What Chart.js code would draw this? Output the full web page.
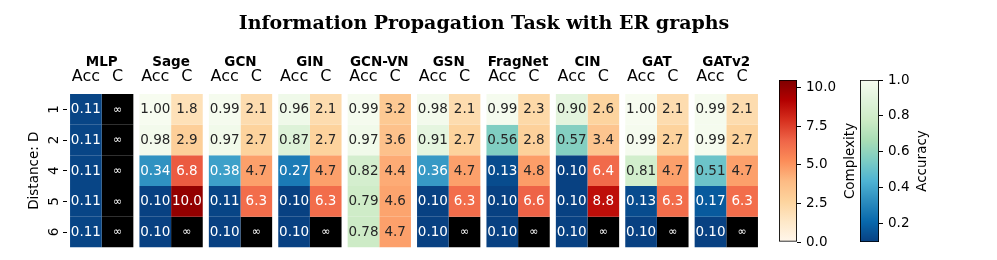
<!DOCTYPE html>
<html><head><meta charset="utf-8">
<script src="https://cdn.jsdelivr.net/npm/chart.js@4/dist/chart.umd.min.js"></script>
<style>
html,body{margin:0;padding:0;background:#fff;}
#wrap{position:relative;width:997px;height:260px;overflow:hidden;background:#fff;}
canvas{position:absolute;}
</style></head><body>
<div id="wrap">
<canvas id="main" width="997" height="260" style="left:0;top:0"></canvas>
<canvas id="cbC" width="100" height="200" style="left:760px;top:60px"></canvas>
<canvas id="cbA" width="146" height="200" style="left:851px;top:60px"></canvas>
</div>
<script>
// ---------------- data ----------------
const models = ['MLP','Sage','GCN','GIN','GCN-VN','GSN','FragNet','CIN','GAT','GATv2'];
const distances = ['1','2','4','5','6'];
// accuracy per model (rows = distances)
const accMLP    = [0.11,0.11,0.11,0.11,0.11];
const accSage   = [1.00,0.98,0.34,0.10,0.10];
const accGCN    = [0.99,0.97,0.38,0.11,0.10];
const accGIN    = [0.96,0.87,0.27,0.10,0.10];
const accGCNVN  = [0.99,0.97,0.82,0.79,0.78];
const accGSN    = [0.98,0.91,0.36,0.10,0.10];
const accFragNet= [0.99,0.56,0.13,0.10,0.10];
const accCIN    = [0.90,0.57,0.10,0.10,0.10];
const accGAT    = [1.00,0.99,0.81,0.13,0.10];
const accGATv2  = [0.99,0.99,0.51,0.17,0.10];
// complexity per model (null = infinity)
const cMLP    = [null,null,null,null,null];
const cSage   = [1.8,2.9,6.8,10.0,null];
const cGCN    = [2.1,2.7,4.7,6.3,null];
const cGIN    = [2.1,2.7,4.7,6.3,null];
const cGCNVN  = [3.2,3.6,4.4,4.6,4.7];
const cGSN    = [2.1,2.7,4.7,6.3,null];
const cFragNet= [2.3,2.8,4.8,6.6,null];
const cCIN    = [2.6,3.4,6.4,8.8,null];
const cGAT    = [2.1,2.7,4.7,6.3,null];
const cGATv2  = [2.1,2.7,4.7,6.3,null];
const accuracy = [accMLP,accSage,accGCN,accGIN,accGCNVN,accGSN,accFragNet,accCIN,accGAT,accGATv2];
const complexity = [cMLP,cSage,cGCN,cGIN,cGCNVN,cGSN,cFragNet,cCIN,cGAT,cGATv2];
const accRange = [0.097, 1.0];
const compRange = [0, 10.5];
const accTicks = [0.2,0.4,0.6,0.8,1.0];
const compTicks = [0,2.5,5,7.5,10];

// ---------------- colour maps ----------------
const GnBu = ['#f7fcf0','#e0f3db','#ccebc5','#a8ddb5','#7bccc4','#4eb3d3','#2b8cbe','#0868ac','#084081'];
const OrRd = ['#fff7ec','#fee8c8','#fdd49e','#fdbb84','#fc8d59','#ef6548','#d7301f','#b30000','#7f0000'];
function hex(h){return [parseInt(h.slice(1,3),16),parseInt(h.slice(3,5),16),parseInt(h.slice(5,7),16)];}
function sample(stops,t){
  t=Math.max(0,Math.min(1,t));
  const n=stops.length-1, p=t*n, i=Math.min(Math.floor(p),n-1), f=p-i;
  const a=hex(stops[i]), b=hex(stops[i+1]);
  return a.map((v,j)=>Math.round(v+(b[j]-v)*f));
}
function rgb(c){return 'rgb('+c.join(',')+')';}
function accRGB(v){return sample(GnBu,1-(v-accRange[0])/(accRange[1]-accRange[0]));}
function compRGB(v){return v==null?[0,0,0]:sample(OrRd,(v-compRange[0])/(compRange[1]-compRange[0]));}
function lum(c){
  const l=c.map(x=>{x/=255;return x<=0.03928?x/12.92:Math.pow((x+0.055)/1.055,2.4);});
  return 0.2126*l[0]+0.7152*l[1]+0.0722*l[2];
}

// ---------------- datasets ----------------
const datasets=[];
distances.forEach((d,r)=>{
  datasets.push({label:'Acc '+d, kind:'acc', row:r, stack:'acc',
    data:models.map(()=>[r,r+1]),
    backgroundColor:models.map((m,k)=>rgb(accRGB(accuracy[k][r])))});
});
distances.forEach((d,r)=>{
  datasets.push({label:'C '+d, kind:'c', row:r, stack:'c',
    data:models.map(()=>[r,r+1]),
    backgroundColor:models.map((m,k)=>rgb(compRGB(complexity[k][r])))});
});

const FONT='DejaVu Sans';
const cellLabels={
  id:'cellLabels',
  afterDatasetsDraw(chart){
    const ctx=chart.ctx;
    ctx.save();
    ctx.textAlign='center';ctx.textBaseline='middle';
    chart.data.datasets.forEach((ds,di)=>{
      const meta=chart.getDatasetMeta(di);
      meta.data.forEach((el,k)=>{
        const v = ds.kind==='acc'?accuracy[k][ds.row]:complexity[k][ds.row];
        const col = ds.kind==='acc'?accRGB(v):compRGB(v);
        const cx=el.x, cy=(el.y+el.base)/2;
        let txt;
        if(v==null){txt='\u221e';ctx.font='11px "'+FONT+'"';}
        else {txt= ds.kind==='acc'?v.toFixed(2):v.toFixed(1);ctx.font='13.5px "'+FONT+'"';}
        ctx.fillStyle = lum(col)>0.408?'#262626':'#ffffff';
        ctx.fillText(txt,cx,cy+0.5);
      });
    });
    // column headers
    const mA=chart.getDatasetMeta(0), mC=chart.getDatasetMeta(distances.length);
    ctx.fillStyle='#000';ctx.textBaseline='alphabetic';ctx.font='16px "'+FONT+'"';
    mA.data.forEach(el=>ctx.fillText('Acc',el.x,80.5));
    mC.data.forEach(el=>ctx.fillText('C',el.x,80.5));
    // figure title
    ctx.font='bold 19px "DejaVu Serif"';
    ctx.fillText('Information Propagation Task with ER graphs',484,28.5);
    ctx.restore();
  }
};

new Chart(document.getElementById('main'),{
  type:'bar',
  data:{labels:models,datasets},
  options:{
    responsive:false,animation:false,
    layout:{padding:{left:0,top:0,right:236,bottom:11}},
    plugins:{legend:{display:false},tooltip:{enabled:false}},
    datasets:{bar:{barPercentage:1,categoryPercentage:63.3/69.4,borderWidth:0}},
    scales:{
      x:{position:'top',stacked:true,
        grid:{display:false,drawTicks:false},border:{display:false},
        ticks:{font:{family:FONT,size:13.5,weight:'bold'},color:'#000',padding:23.5,maxRotation:0,autoSkip:false},
        afterFit(s){s.height=94;}},
      y:{type:'linear',min:0,max:5,reverse:true,stacked:false,
        afterBuildTicks(s){s.ticks=distances.map((d,i)=>({value:i+0.5}));},
        ticks:{callback:(v,i)=>distances[i],minRotation:90,maxRotation:90,crossAlign:'center',padding:4.5,
          font:{family:FONT,size:13.5},color:'#000'},
        grid:{drawOnChartArea:false,drawTicks:true,tickLength:4,color:'#000'},
        border:{display:false},
        title:{display:true,text:'Distance: D',font:{family:FONT,size:13.5},color:'#000',padding:{top:26,bottom:0}},
        afterFit(s){s.width=67;}}
    }
  },
  plugins:[cellLabels]
});

function colorbar(id,range,ticks,stops,padLeft,axisWidth,title,titleX){
  new Chart(document.getElementById(id),{
    type:'bar',
    data:{labels:[''],datasets:[{data:[range],
      backgroundColor(c){const ca=c.chart.chartArea;if(!ca)return stops[0];
        const g=c.chart.ctx.createLinearGradient(0,ca.bottom,0,ca.top);
        stops.forEach((s,i)=>g.addColorStop(i/(stops.length-1),s));return g;},
      borderColor:'#000',borderWidth:1.2,borderSkipped:false,barPercentage:1,categoryPercentage:1}]},
    options:{responsive:false,animation:false,
      layout:{padding:{left:padLeft,top:20,bottom:18,right:0}},
      plugins:{legend:{display:false},tooltip:{enabled:false}},
      scales:{x:{display:false},
        y:{position:'right',min:range[0],max:range[1],
          afterBuildTicks(s){s.ticks=ticks.map(v=>({value:v}));},
          ticks:{callback:v=>Number(v).toFixed(1),font:{family:FONT,size:13.5},color:'#000',padding:5},
          grid:{drawOnChartArea:false,tickLength:4,color:'#000'},border:{display:false},
          afterFit(s){s.width=axisWidth;}}}},
    plugins:[{id:'cbTitle',afterDraw(chart){
      const ctx=chart.ctx,ca=chart.chartArea;
      ctx.save();ctx.translate(titleX,(ca.top+ca.bottom)/2);ctx.rotate(-Math.PI/2);
      ctx.font='13.5px "'+FONT+'"';ctx.fillStyle='#000';ctx.textAlign='center';ctx.textBaseline='alphabetic';
      ctx.fillText(title,0,0);ctx.restore();}}]
  });
}
colorbar('cbC',compRange,compTicks,OrRd,19,63,'Complexity',854.3-760);
colorbar('cbA',accRange,accTicks,[...GnBu].reverse(),9,118,'Accuracy',926-851);
</script>
</body></html>
